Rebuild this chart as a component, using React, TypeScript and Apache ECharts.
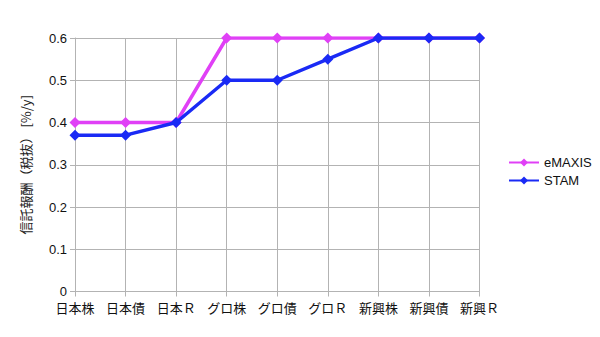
import React, { useEffect, useRef } from "react";
import * as echarts from "echarts";

const categories = ["日本株", "日本債", "日本Ｒ", "グロ株", "グロ債", "グロＲ", "新興株", "新興債", "新興Ｒ"];
const emaxisValues = [0.4, 0.4, 0.4, 0.6, 0.6, 0.6, 0.6, 0.6, 0.6];
const stamValues = [0.37, 0.37, 0.4, 0.5, 0.5, 0.55, 0.6, 0.6, 0.6];
const yAxisName = "信託報酬（税抜） [%/y]";

export default function App() {
  const ref = useRef<HTMLDivElement>(null);
  useEffect(() => {
    if (!ref.current) return;
    const chart = echarts.init(ref.current, undefined, { renderer: "svg" });
    const font = "'Liberation Sans', Arial, sans-serif";
    chart.setOption({
      animation: false,
      backgroundColor: "#ffffff",
      textStyle: { fontFamily: font },
      grid: { left: 75, right: 120.5, top: 38, bottom: 45.5, containLabel: false },
      legend: {
        orient: "vertical",
        left: 503,
        top: 151,
        itemWidth: 30,
        itemHeight: 10,
        itemGap: 5,
        textStyle: { fontSize: 13, color: "#111", fontFamily: font },
        data: ["eMAXIS", "STAM"],
      },
      xAxis: {
        type: "category",
        data: categories,
        boundaryGap: false,
        axisLine: { show: true, lineStyle: { color: "#b3b3b3", width: 1 } },
        axisTick: { show: true, length: 5, interval: 0, lineStyle: { color: "#b3b3b3" } },
        axisLabel: { interval: 0, color: "#111", fontSize: 13, margin: 9, fontFamily: "'Noto Sans CJK JP', sans-serif" },
        splitLine: { show: true, interval: 0, lineStyle: { color: "#b3b3b3", width: 1 } },
      },
      yAxis: {
        type: "value",
        min: 0,
        max: 0.6,
        interval: 0.1,
        name: yAxisName,
        nameLocation: "middle",
        nameRotate: 90,
        nameGap: 43,
        nameTextStyle: { fontSize: 13, color: "#222", fontFamily: "'Noto Sans CJK JP', sans-serif" },
        axisLine: { show: true, lineStyle: { color: "#b3b3b3", width: 1 } },
        axisTick: { show: true, length: 5, lineStyle: { color: "#b3b3b3" } },
        axisLabel: { color: "#111", fontSize: 13, margin: 8, formatter: (v: number) => (v === 0 ? "0" : v.toFixed(1)) },
        splitLine: { show: true, lineStyle: { color: "#b3b3b3", width: 1 } },
      },
      series: [
        {
          name: "eMAXIS",
          type: "line",
          data: emaxisValues,
          symbol: "diamond",
          symbolSize: 11,
          color: "#e040f6",
          lineStyle: { width: 3.5, color: "#e040f6" },
          itemStyle: { color: "#e040f6" },
          z: 2,
        },
        {
          name: "STAM",
          type: "line",
          data: stamValues,
          symbol: "diamond",
          symbolSize: 11,
          color: "#1a2af5",
          lineStyle: { width: 3.5, color: "#1a2af5" },
          itemStyle: { color: "#1a2af5" },
          z: 3,
        },
      ],
    });
    return () => chart.dispose();
  }, []);
  return <div ref={ref} style={{ width: 600, height: 337, position: "absolute", left: 0, top: 0 }} />;
}
